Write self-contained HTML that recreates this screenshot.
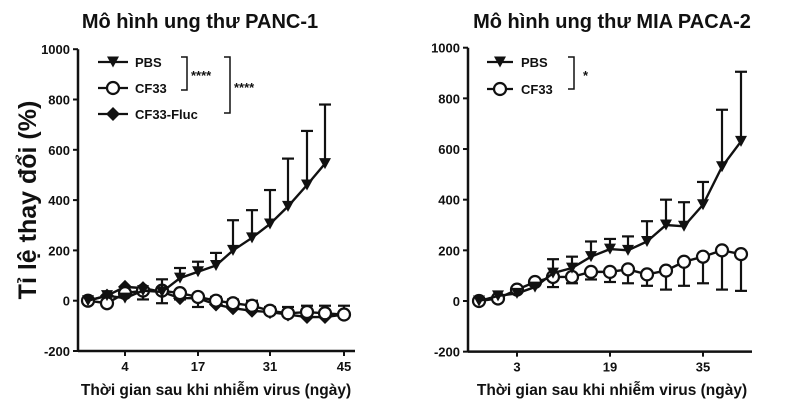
<!DOCTYPE html>
<html><head><meta charset="utf-8"><style>
body{margin:0;background:#fff;width:800px;height:408px;overflow:hidden}
text{font-family:"Liberation Sans",Arial,sans-serif;font-weight:bold;fill:#111}
</style></head><body>
<svg id="s" width="800" height="408" xmlns="http://www.w3.org/2000/svg">
<text x="200" y="28" font-size="20" text-anchor="middle">Mô hình ung thư PANC-1</text>
<text x="612" y="28" font-size="20" text-anchor="middle">Mô hình ung thư MIA PACA-2</text>
<text transform="translate(36,200) rotate(-90)" font-size="25" text-anchor="middle">Tỉ lệ thay đổi (%)</text>
<text x="216" y="395" font-size="15.5" text-anchor="middle">Thời gian sau khi nhiễm virus (ngày)</text>
<text x="612" y="395" font-size="15.5" text-anchor="middle">Thời gian sau khi nhiễm virus (ngày)</text>
</svg>
<script>
const s=document.getElementById('s');const NS='http://www.w3.org/2000/svg';
function el(t,a,txt){const e=document.createElementNS(NS,t);for(const k in a)e.setAttribute(k,a[k]);if(txt!==undefined)e.textContent=txt;s.appendChild(e);return e;}
function line(x1,y1,x2,y2,w){el('line',{x1,y1,x2,y2,stroke:'#111','stroke-width':w||2.2});}
function tri(x,y){el('polygon',{points:`${x-6},${y-5.5} ${x+6},${y-5.5} ${x},${y+5.5}`,fill:'#111'});}
function circ(x,y){el('circle',{cx:x,cy:y,r:6,fill:'#fff',stroke:'#111','stroke-width':2.2});}
function dia(x,y){el('polygon',{points:`${x},${y-7} ${x+7},${y} ${x},${y+7} ${x-7},${y}`,fill:'#111'});}
function axes(ax,y0,sc,xend,ticks){
 line(ax,y0-1000*sc,ax,y0+200*sc,2.5);line(ax,y0+200*sc,xend,y0+200*sc,2.5);
 for(let v=-200;v<=1000;v+=200){const y=y0-v*sc;line(ax-5,y,ax,y,2);el('text',{x:ax-8,y:y+5,'font-size':13,'text-anchor':'end'},v);}
 for(const [x,l] of ticks){const y=y0+200*sc;line(x,y,x,y+5,2);el('text',{x:x,y:y+20,'font-size':13,'text-anchor':'middle'},l);}
}
function series(xs,vals,y0,sc,mk,err){
 const pts=xs.map((x,i)=>[x,y0-vals[i]*sc]);
 el('polyline',{points:pts.map(p=>p.join(',')).join(' '),fill:'none',stroke:'#111','stroke-width':2.4});
 if(err)err.forEach((e,i)=>{if(e==null)return;const y=y0-e*sc;line(pts[i][0],pts[i][1],pts[i][0],y,2.2);line(pts[i][0]-6,y,pts[i][0]+6,y,2.2);});
 pts.forEach(p=>mk(p[0],p[1]));
}
const L0=300.7,Ls=0.2515;
axes(78,L0,Ls,355,[[125,4],[198,17],[270,31],[344,45]]);
const lx=[88,107,125,143,162,180,198,216,233,252,270,288,307,325,344];
series(lx,[0,20,55,50,35,10,10,-15,-30,-40,-45,-55,-65,-65,-55],L0,Ls,dia,[null,null,null,null,-10,null,null,null,null,null,null,null,null,null,null]);
series(lx,[0,-10,30,40,40,30,15,0,-10,-20,-40,-50,-45,-50,-55],L0,Ls,circ,[null,null,null,5,null,5,-25,15,5,0,-25,-25,-20,-20,-20]);
series(lx.slice(0,14),[0,20,10,40,35,90,115,140,200,250,305,375,460,545],L0,Ls,tri,[null,null,null,null,85,130,155,190,320,360,440,565,675,780]);
line(98,62,128,62);tri(113,62);el('text',{x:135,y:67,'font-size':13},'PBS');
line(98,88,128,88);circ(113,88);el('text',{x:135,y:93,'font-size':13},'CF33');
line(98,114,128,114);dia(113,114);el('text',{x:135,y:119,'font-size':13},'CF33-Fluc');
el('polyline',{points:'181,57 187,57 187,90 181,90',fill:'none',stroke:'#111','stroke-width':1.5});
el('text',{x:191,y:80,'font-size':13},'****');
el('polyline',{points:'224,57 230,57 230,113 224,113',fill:'none',stroke:'#111','stroke-width':1.5});
el('text',{x:234,y:92,'font-size':13},'****');
const R0=301,Rs=0.2533;
axes(468,R0,Rs,752,[[517,3],[610,19],[703,35]]);
const rx=[479,498,517,535,553,572,591,610,628,647,666,684,703,722,741];
series(rx,[0,10,45,75,95,95,115,115,125,105,120,155,175,200,185],R0,Rs,circ,[null,null,null,null,55,70,85,75,70,60,45,60,70,45,40]);
series(rx,[0,20,30,55,110,130,175,205,200,235,300,295,380,530,630],R0,Rs,tri,[null,null,null,null,165,175,235,245,255,315,400,390,470,755,905]);
line(487,62,513,62);tri(500,62);el('text',{x:521,y:67,'font-size':13},'PBS');
line(487,89,513,89);circ(500,89);el('text',{x:521,y:94,'font-size':13},'CF33');
el('polyline',{points:'568,57 574,57 574,89 568,89',fill:'none',stroke:'#111','stroke-width':1.5});
el('text',{x:583,y:80,'font-size':13},'*');
</script>
</body></html>
